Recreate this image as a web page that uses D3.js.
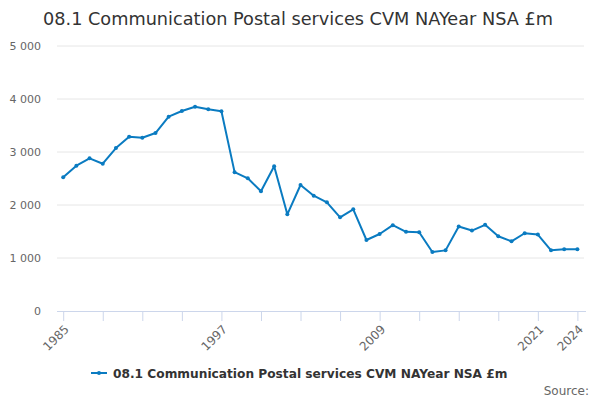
<!DOCTYPE html>
<html><head><meta charset="utf-8">
<script src="https://cdn.jsdelivr.net/npm/d3@7/dist/d3.min.js"></script>
<style>body{margin:0;background:#fff}svg{display:block;font-family:"DejaVu Sans",sans-serif}</style>
</head><body><svg id="c" width="600" height="400"></svg>
<script>
const years = d3.range(1985, 2025);
const values = [2523,2742,2881,2779,3075,3289,3270,3358,3667,3774,3855,3806,3768,
  2620,2504,2258,2730,1824,2377,2176,2051,1767,1918,1340,1453,1619,1493,1486,1114,1144,
  1594,1518,1626,1410,1315,1467,1442,1144,1163,1163];
const yTicks = [0,1000,2000,3000,4000,5000];
const xTicks = d3.range(1985, 2025, 3);
const xLabels = [1985,1997,2009,2021,2024];
const title = "08.1 Communication Postal services CVM NAYear NSA £m";
const color = "#0a7bc1";

const svg = d3.select("#c");
const x = d3.scaleLinear().domain([1985,2024]).range([63.2,577.4]);
const y = d3.scaleLinear().domain([0,5000]).range([311,46]);
const fmt = v => d3.format(",")(v).replace(/,/g," ");

svg.append("text").attr("x",43).attr("y",25).attr("font-size",17.7).attr("fill","#333").text(title);

const g = svg.append("g");
g.selectAll("line.grid").data(yTicks.filter(d=>d>0)).join("line")
  .attr("x1",57).attr("x2",584).attr("y1",d=>y(d)).attr("y2",d=>y(d))
  .attr("stroke","#e6e6e6").attr("stroke-width",1);
g.selectAll("text.yl").data(yTicks).join("text")
  .attr("x",41).attr("y",d=>y(d)+4).attr("text-anchor","end")
  .attr("font-size",11).attr("fill","#666").text(fmt);

// x axis
const xa = svg.append("g").attr("transform","translate(0,311)")
  .call(d3.axisBottom(x).tickValues(xTicks).tickSize(10).tickFormat(d=>xLabels.includes(d)?d:""));
xa.select(".domain").attr("d","M57,0.5H586").attr("stroke","#ccd6eb");
xa.selectAll(".tick line").attr("stroke","#ccd6eb");
xa.selectAll(".tick text").attr("font-size",12).attr("fill","#666")
  .attr("text-anchor","end").attr("x",0).attr("y",0).attr("dy",0)
  .attr("transform","translate(6,19) rotate(-45)")
  .attr("font-family","DejaVu Sans");

const line = d3.line().x((d,i)=>x(years[i])).y(d=>y(d));
svg.append("path").datum(values).attr("d",line).attr("fill","none")
  .attr("stroke",color).attr("stroke-width",2).attr("stroke-linejoin","round");
svg.selectAll("circle.pt").data(values).join("circle")
  .attr("cx",(d,i)=>x(years[i])).attr("cy",d=>y(d)).attr("r",2).attr("fill",color);

// legend
svg.append("line").attr("x1",91).attr("x2",107).attr("y1",373).attr("y2",373).attr("stroke",color).attr("stroke-width",2);
svg.append("circle").attr("cx",99).attr("cy",373).attr("r",2).attr("fill",color);
svg.append("text").attr("x",113).attr("y",377.5).attr("font-size",12.2).attr("font-weight","bold").attr("fill","#333").text(title);
svg.append("text").attr("x",589).attr("y",395).attr("text-anchor","end").attr("font-size",12).attr("fill","#666").text("Source:");
</script></body></html>
